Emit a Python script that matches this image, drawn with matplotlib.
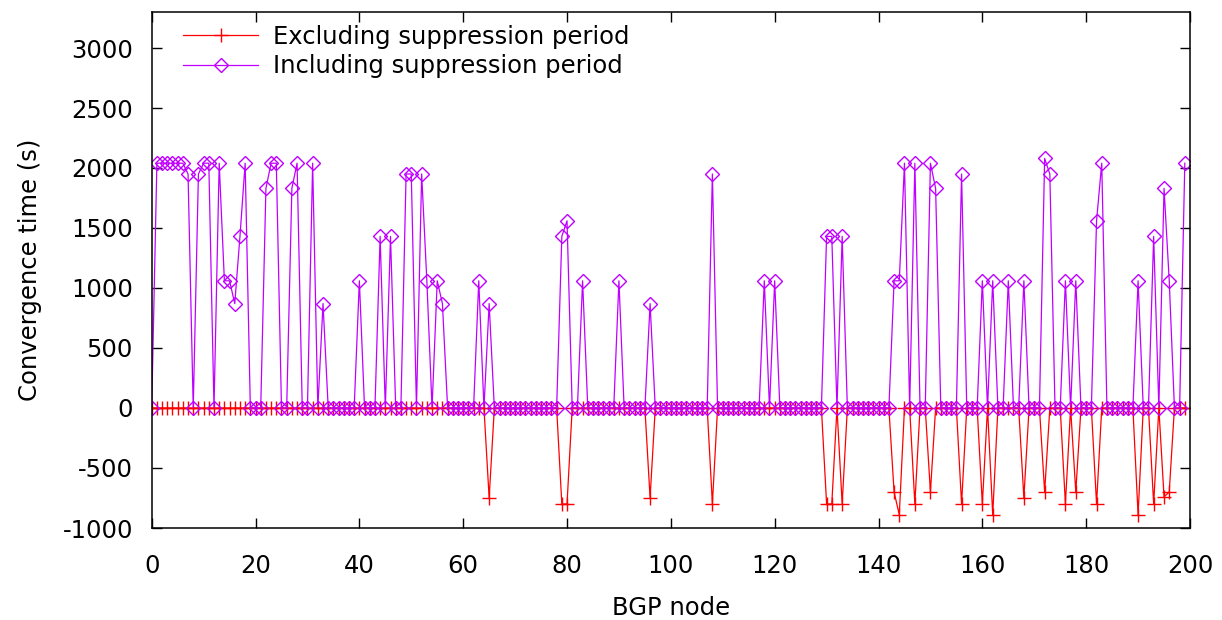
import matplotlib

matplotlib.use("Agg")
import matplotlib.pyplot as plt
import numpy as np

plt.rcParams["font.family"] = ["DejaVu Sans"]
plt.rcParams["axes.unicode_minus"] = False  # gnuplot uses a plain hyphen

# convergence time per BGP node (s)
nodes = list(range(200))

excluding = [
    0, 0, 0, 0, 0, 0, 0, 0, 0, 0, 0, 0, 0, 0, 0, 0, 0, 0, 0, 0,
    0, 0, 0, 0, 0, 0, 0, 0, 0, 0, 0, 0, 0, 0, 0, 0, 0, 0, 0, 0,
    0, 0, 0, 0, 0, 0, 0, 0, 0, 0, 0, 0, 0, 0, 0, 0, 0, 0, 0, 0,
    0, 0, 0, 0, 0, -750, 0, 0, 0, 0, 0, 0, 0, 0, 0, 0, 0, 0, 0, -800,
    -800, 0, 0, 0, 0, 0, 0, 0, 0, 0, 0, 0, 0, 0, 0, 0, -750, 0, 0, 0,
    0, 0, 0, 0, 0, 0, 0, 0, -800, 0, 0, 0, 0, 0, 0, 0, 0, 0, 0, 0,
    0, 0, 0, 0, 0, 0, 0, 0, 0, 0, -800, -800, 0, -800, 0, 0, 0, 0, 0, 0,
    0, 0, 0, -700, -890, 0, 0, -800, 0, 0, -700, 0, 0, 0, 0, 0, -800, 0, 0, 0,
    -800, 0, -890, 0, 0, 0, 0, 0, -750, 0, 0, 0, -700, 0, 0, 0, -800, 0, -700, 0,
    0, 0, -800, 0, 0, 0, 0, 0, 0, 0, -890, 0, 0, -800, 0, -740, -700, 0, 0, 0,
]

including = [
    0, 2040, 2040, 2040, 2040, 2040, 2040, 1950, 0, 1950, 2040, 2040, 0, 2040, 1060, 1060, 870, 1430, 2040, 0,
    0, 0, 1830, 2040, 2040, 0, 0, 1830, 2040, 0, 0, 2040, 0, 870, 0, 0, 0, 0, 0, 0,
    1060, 0, 0, 0, 1430, 0, 1430, 0, 0, 1950, 1950, 0, 1950, 1060, 0, 1060, 870, 0, 0, 0,
    0, 0, 0, 1060, 0, 870, 0, 0, 0, 0, 0, 0, 0, 0, 0, 0, 0, 0, 0, 1430,
    1560, 0, 0, 1060, 0, 0, 0, 0, 0, 0, 1060, 0, 0, 0, 0, 0, 870, 0, 0, 0,
    0, 0, 0, 0, 0, 0, 0, 0, 1950, 0, 0, 0, 0, 0, 0, 0, 0, 0, 1060, 0,
    1060, 0, 0, 0, 0, 0, 0, 0, 0, 0, 1430, 1430, 0, 1430, 0, 0, 0, 0, 0, 0,
    0, 0, 0, 1060, 1060, 2040, 0, 2040, 0, 0, 2040, 1830, 0, 0, 0, 0, 1950, 0, 0, 0,
    1060, 0, 1060, 0, 0, 1060, 0, 0, 1060, 0, 0, 0, 2080, 1950, 0, 0, 1060, 0, 1060, 0,
    0, 0, 1560, 2040, 0, 0, 0, 0, 0, 0, 1060, 0, 0, 1430, 0, 1830, 1060, 0, 0, 2040,
]

x_ticks = list(range(0, 201, 20))
y_ticks = list(range(-1000, 3001, 500))

RED = "#ff0000"
VIOLET = "#c000ff"
FS = 17.5

fig = plt.figure(figsize=(12.22, 6.2), dpi=100)
ax = fig.add_axes([151.7 / 1222, 1 - 528 / 620, (1190 - 151.7) / 1222, (528 - 12) / 620])

ax.plot(nodes, excluding, color=RED, linewidth=0.9, marker="+", markersize=10,
        markeredgewidth=1.0, label="Excluding suppression period")
ax.plot(nodes, including, color=VIOLET, linewidth=0.9, marker="D", markersize=7,
        markerfacecolor="none", markeredgewidth=1.0, label="Including suppression period")

ax.set_xlim(0, 200)
ax.set_ylim(-1000, 3300)
ax.set_xticks(x_ticks)
ax.set_yticks(y_ticks)
ax.tick_params(direction="in", length=7, width=1.0, top=True, right=True,
               labelsize=FS, colors="black")
ax.tick_params(axis="x", pad=19)
ax.tick_params(axis="y", pad=13.5)
for s in ax.spines.values():
    s.set_linewidth(1.1)

ax.set_xlabel("BGP node", fontsize=FS, labelpad=13)
ax.set_ylabel("Convergence time (s)", fontsize=FS, labelpad=15)

ax.legend(loc="upper left", bbox_to_anchor=(0.03, 0.975), frameon=False, fontsize=FS,
          handlelength=3.1, handletextpad=0.6, labelspacing=0.22, borderpad=0,
          borderaxespad=0)

fig.savefig("out.png", dpi=100)
plt.close(fig)
